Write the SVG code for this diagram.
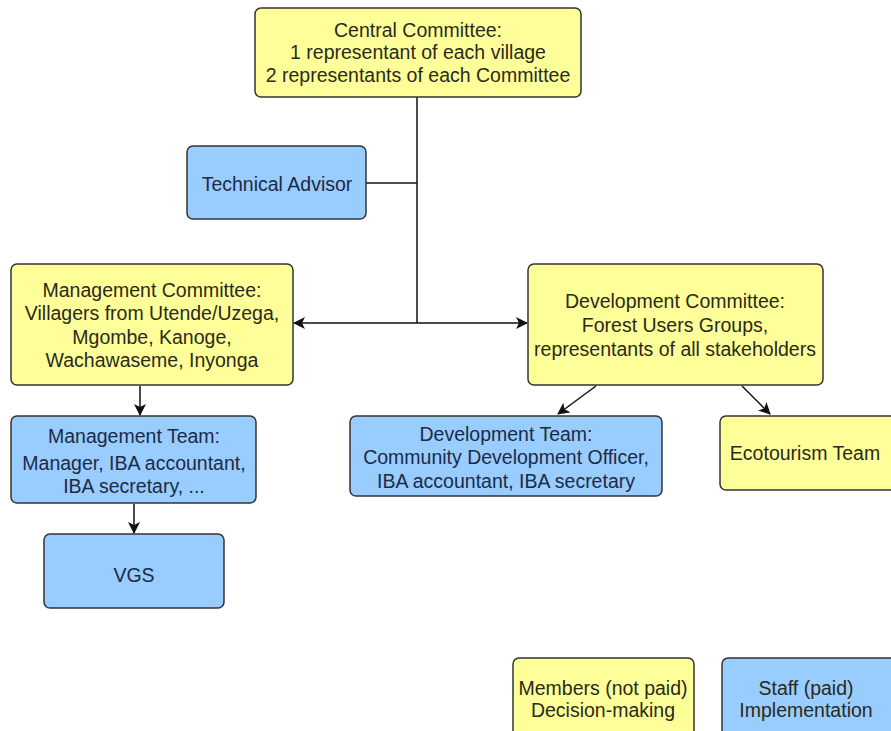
<svg xmlns="http://www.w3.org/2000/svg" width="891" height="731" viewBox="0 0 891 731">
<defs>
<style>
.y{fill:#ffff99;stroke:#333;stroke-width:1.5}
.b{fill:#99ccff;stroke:#333;stroke-width:1.5}
text{font-family:"Liberation Sans",Arial,sans-serif;font-size:19.5px;text-anchor:middle}
.ty{fill:#2a2a1a}
.tb{fill:#1c2b45}
.c{stroke:#111;stroke-width:1.5;fill:none}
</style>
<marker id="ah" viewBox="0 0 12 12" refX="11" refY="6" markerWidth="12" markerHeight="12" markerUnits="userSpaceOnUse" orient="auto">
<path d="M0,0 L12,6 L0,12 L3,6 Z" fill="#111"/>
</marker>
</defs>
<rect width="891" height="731" fill="#fff"/>
<g id="connectors">
<path class="c" d="M417,97 V323"/>
<path class="c" d="M366,183 H417"/>
<path class="c" d="M417,323 H294" marker-end="url(#ah)"/>
<path class="c" d="M417,323 H527" marker-end="url(#ah)"/>
<path class="c" d="M140,386 V415" marker-end="url(#ah)"/>
<path class="c" d="M134,504 V533" marker-end="url(#ah)"/>
<path class="c" d="M596,386 L558,414" marker-end="url(#ah)"/>
<path class="c" d="M742,386 L770,414" marker-end="url(#ah)"/>
</g>
<g id="central">
<rect class="y" x="255" y="8" width="326" height="89" rx="6"/>
<text class="ty" x="418" y="37">Central Committee:</text>
<text class="ty" x="418" y="59">1 representant of each village</text>
<text class="ty" x="418" y="82">2 representants of each Committee</text>
</g>
<g id="technical">
<rect class="b" x="187" y="146" width="179" height="73" rx="6"/>
<text class="tb" x="277" y="191">Technical Advisor</text>
</g>
<g id="mgmt-committee">
<rect class="y" x="11" y="264" width="282" height="121" rx="6"/>
<text class="ty" x="152" y="297">Management Committee:</text>
<text class="ty" x="152" y="320">Villagers from Utende/Uzega,</text>
<text class="ty" x="152" y="344">Mgombe, Kanoge,</text>
<text class="ty" x="152" y="367">Wachawaseme, Inyonga</text>
</g>
<g id="dev-committee">
<rect class="y" x="528" y="264" width="295" height="121" rx="6"/>
<text class="ty" x="675" y="308">Development Committee:</text>
<text class="ty" x="675" y="332">Forest  Users Groups,</text>
<text class="ty" x="675" y="356">representants of all stakeholders</text>
</g>
<g id="mgmt-team">
<rect class="b" x="11" y="416" width="245" height="87" rx="6"/>
<text class="tb" x="134" y="443">Management Team:</text>
<text class="tb" x="134" y="470">Manager, IBA accountant,</text>
<text class="tb" x="134" y="493">IBA secretary, ...</text>
</g>
<g id="vgs">
<rect class="b" x="44" y="534" width="180" height="74" rx="6"/>
<text class="tb" x="134" y="582">VGS</text>
</g>
<g id="dev-team">
<rect class="b" x="350" y="416" width="312" height="80" rx="6"/>
<text class="tb" x="506" y="441">Development Team:</text>
<text class="tb" x="506" y="464">Community Development Officer,</text>
<text class="tb" x="506" y="488">IBA accountant, IBA secretary</text>
</g>
<g id="ecotourism">
<rect class="y" x="720" y="416" width="185" height="74" rx="6"/>
<text class="ty" x="805" y="460">Ecotourism Team</text>
</g>
<g id="legend-members">
<rect class="y" x="513" y="658" width="181" height="85" rx="6"/>
<text class="ty" x="603" y="695">Members (not paid)</text>
<text class="ty" x="603" y="717">Decision-making</text>
</g>
<g id="legend-staff">
<rect class="b" x="722" y="658" width="185" height="85" rx="6"/>
<text class="ty" x="806" y="695">Staff (paid)</text>
<text class="ty" x="806" y="717">Implementation</text>
</g>
</svg>
